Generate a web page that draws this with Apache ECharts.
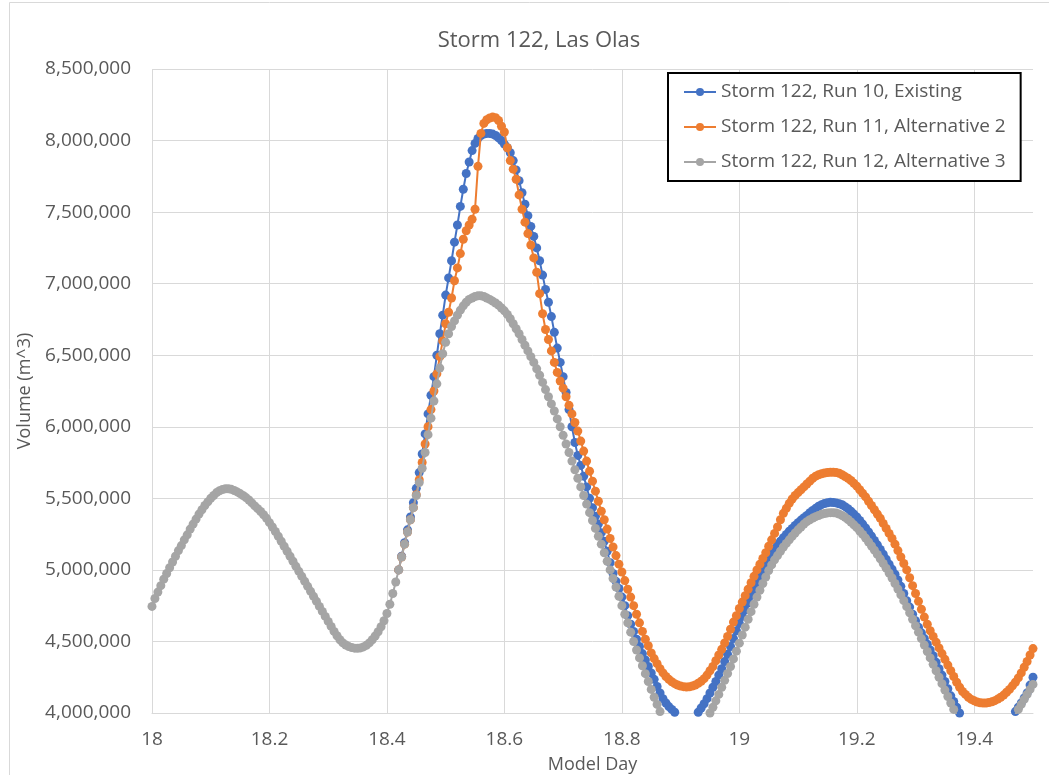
<!DOCTYPE html>
<html><head><meta charset="utf-8">
<script src="https://cdn.jsdelivr.net/npm/echarts@6/dist/echarts.min.js"></script>
<style>html,body{margin:0;padding:0;background:#fff}#chart{width:1049px;height:775px}</style>
</head><body><div id="chart"></div>
<script>
const chartTitle = 'Storm 122, Las Olas';
const xAxisName = 'Model Day';
const yAxisName = 'Volume (m^3)';
const seriesNames = ['Storm 122, Run 10, Existing', 'Storm 122, Run 11, Alternative 2', 'Storm 122, Run 12, Alternative 3'];
const seriesColors = ['#4472C4', '#ED7D31', '#A5A5A5'];
const xTickLabels = ['18', '18.2', '18.4', '18.6', '18.8', '19', '19.2', '19.4'];
const dayStep = 0.005;
const run12FirstDay = 18.0;
const run10FirstDay = 18.42;
const run11FirstDay = 18.42;

// Run 12, Alternative 3 (grey), 18.000 .. 19.500
const run12Volume = [
4745000,4800000,4845000,4890000,4935000,4975000,5015000,5055000,5095000,5135000,
5170000,5210000,5245000,5285000,5320000,5355000,5390000,5420000,5450000,5475000,
5500000,5520000,5540000,5553000,5562000,5567000,5567000,5563000,5555000,5545000,
5533000,5520000,5505000,5488000,5468000,5447000,5428000,5408000,5385000,5360000,
5330000,5300000,5268000,5235000,5200000,5165000,5130000,5095000,5060000,5025000,
4990000,4955000,4920000,4885000,4850000,4815000,4780000,4745000,4710000,4675000,
4640000,4605000,4570000,4540000,4512000,4490000,4475000,4464000,4457000,4453000,
4452000,4455000,4462000,4473000,4490000,4512000,4538000,4568000,4603000,4645000,
4695000,4760000,4835000,4915000,5000000,5090000,5180000,5265000,5350000,5435000,
5520000,5610000,5710000,5820000,5945000,6060000,6180000,6300000,6410000,6510000,
6590000,6650000,6700000,6740000,6780000,6815000,6845000,6870000,6890000,6900000,
6910000,6915000,6915000,6910000,6900000,6890000,6878000,6865000,6850000,6830000,
6810000,6785000,6755000,6720000,6685000,6650000,6610000,6570000,6530000,6490000,
6450000,6405000,6360000,6310000,6260000,6210000,6160000,6110000,6055000,6000000,
5940000,5880000,5820000,5760000,5700000,5640000,5580000,5520000,5460000,5400000,
5345000,5290000,5235000,5180000,5120000,5060000,5000000,4940000,4880000,4815000,
4750000,4690000,4630000,4565000,4500000,4440000,4385000,4330000,4275000,4220000,
4165000,4110000,4060000,4010000,3965000,3925000,3890000,3860000,3835000,3815000,
3800000,3795000,3795000,3800000,3815000,3835000,3860000,3890000,3925000,3960000,
4000000,4040000,4085000,4130000,4180000,4228000,4276000,4325000,4378000,4432000,
4488000,4545000,4600000,4655000,4708000,4760000,4810000,4858000,4905000,4950000,
4995000,5035000,5070000,5100000,5130000,5160000,5185000,5210000,5235000,5258000,
5280000,5300000,5320000,5337000,5350000,5362000,5372000,5380000,5388000,5394000,
5398000,5400000,5400000,5397000,5390000,5380000,5367000,5352000,5335000,5315000,
5295000,5272000,5248000,5222000,5195000,5167000,5138000,5108000,5077000,5045000,
5012000,4978000,4943000,4905000,4866000,4826000,4785000,4743000,4700000,4655000,
4610000,4565000,4520000,4475000,4430000,4385000,4340000,4295000,4250000,4205000,
4160000,4115000,4070000,4025000,3985000,3945000,3910000,3880000,3850000,3825000,
3805000,3790000,3780000,3775000,3775000,3780000,3790000,3805000,3820000,3840000,
3865000,3890000,3920000,3955000,3990000,4025000,4060000,4095000,4130000,4165000,
4200000
];

// Run 10, Existing (blue), 18.420 .. 19.500
const run10Volume = [
5000000,5095000,5190000,5280000,5370000,5470000,5570000,5680000,5810000,5950000,
6090000,6220000,6350000,6500000,6650000,6780000,6920000,7040000,7160000,7290000,
7410000,7540000,7660000,7770000,7850000,7930000,7980000,8015000,8035000,8045000,
8050000,8050000,8045000,8035000,8020000,8000000,7975000,7950000,7915000,7860000,
7795000,7720000,7635000,7555000,7475000,7400000,7330000,7250000,7160000,7060000,
6960000,6870000,6770000,6660000,6550000,6450000,6350000,6240000,6120000,6000000,
5890000,5800000,5730000,5655000,5580000,5500000,5435000,5375000,5320000,5260000,
5200000,5130000,5050000,4975000,4920000,4870000,4810000,4750000,4680000,4620000,
4570000,4515000,4465000,4415000,4370000,4325000,4280000,4235000,4185000,4140000,
4100000,4070000,4045000,4025000,4005000,3990000,3975000,3965000,3960000,3960000,
3965000,3980000,4005000,4035000,4065000,4100000,4140000,4180000,4220000,4265000,
4310000,4360000,4410000,4465000,4520000,4575000,4625000,4675000,4720000,4770000,
4820000,4865000,4910000,4955000,5000000,5040000,5080000,5115000,5145000,5175000,
5200000,5225000,5248000,5270000,5290000,5310000,5330000,5348000,5365000,5380000,
5400000,5415000,5430000,5445000,5456000,5464000,5469000,5472000,5471000,5468000,
5462000,5455000,5442000,5428000,5410000,5390000,5370000,5345000,5320000,5293000,
5265000,5236000,5206000,5175000,5143000,5110000,5075000,5040000,5005000,4970000,
4930000,4885000,4835000,4785000,4740000,4690000,4645000,4600000,4560000,4520000,
4480000,4440000,4400000,4355000,4310000,4265000,4220000,4170000,4120000,4080000,
4040000,4000000,3965000,3930000,3900000,3875000,3855000,3840000,3830000,3825000,
3825000,3830000,3840000,3855000,3875000,3895000,3920000,3940000,3960000,3985000,
4010000,4040000,4070000,4105000,4140000,4195000,4250000
];

// Run 11, Alternative 2 (orange), 18.420 .. 19.500
const run11Volume = [
5000000,5090000,5180000,5265000,5350000,5435000,5525000,5630000,5750000,5880000,
6000000,6120000,6250000,6370000,6490000,6600000,6720000,6800000,6900000,7020000,
7110000,7210000,7310000,7370000,7410000,7450000,7520000,7820000,8050000,8120000,
8145000,8158000,8164000,8160000,8140000,8100000,8060000,7950000,7860000,7800000,
7730000,7620000,7520000,7430000,7350000,7270000,7180000,7080000,6930000,6790000,
6680000,6610000,6530000,6450000,6380000,6320000,6270000,6210000,6150000,6090000,
6030000,5970000,5900000,5830000,5760000,5690000,5620000,5550000,5480000,5410000,
5350000,5285000,5220000,5160000,5100000,5040000,4985000,4925000,4865000,4810000,
4750000,4690000,4630000,4570000,4515000,4470000,4420000,4380000,4345000,4310000,
4280000,4255000,4235000,4218000,4205000,4195000,4188000,4184000,4182000,4183000,
4188000,4196000,4208000,4222000,4240000,4265000,4295000,4325000,4365000,4405000,
4445000,4490000,4535000,4585000,4635000,4680000,4730000,4775000,4820000,4865000,
4910000,4955000,5000000,5040000,5080000,5120000,5165000,5210000,5255000,5300000,
5350000,5395000,5430000,5465000,5495000,5520000,5540000,5560000,5580000,5600000,
5620000,5640000,5655000,5665000,5672000,5677000,5680000,5682000,5682000,5680000,
5675000,5665000,5652000,5640000,5625000,5605000,5585000,5560000,5535000,5510000,
5480000,5450000,5420000,5390000,5360000,5325000,5290000,5255000,5220000,5180000,
5135000,5090000,5045000,5000000,4945000,4890000,4835000,4780000,4725000,4670000,
4620000,4575000,4535000,4495000,4455000,4415000,4375000,4335000,4295000,4255000,
4215000,4180000,4150000,4130000,4110000,4095000,4085000,4077000,4072000,4070000,
4070000,4073000,4078000,4086000,4097000,4110000,4125000,4145000,4165000,4190000,
4215000,4245000,4280000,4320000,4360000,4405000,4450000
];

function toPairs(values, firstDay) {
  return values.map((v, i) => [Math.round((firstDay + i * dayStep) * 1000) / 1000, v]);
}

const FONT = '"Open Sans", "Liberation Sans", sans-serif';
const TEXT = '#595959';
const GRID = '#d9d9d9';

const chart = echarts.init(document.getElementById('chart'), null, { renderer: 'canvas' });

const volumes = [run10Volume, run11Volume, run12Volume];
const firstDays = [run10FirstDay, run11FirstDay, run12FirstDay];

chart.setOption({
  animation: false,
  backgroundColor: '#ffffff',
  textStyle: { fontFamily: FONT },
  graphic: [{
    type: 'rect', left: 7, top: 0, z: -10, silent: true,
    shape: { width: 1060, height: 800 },
    style: { fill: 'none', stroke: '#d9d9d9', lineWidth: 1 }
  }],
  title: {
    text: chartTitle, left: 534, top: 25, textAlign: 'center',
    textStyle: { fontFamily: FONT, fontSize: 22, fontWeight: 'normal', color: TEXT }
  },
  legend: {
    orient: 'vertical', left: 668, top: 73,
    backgroundColor: '#fff', borderColor: '#000', borderWidth: 2,
    padding: [9, 15, 9, 15], itemGap: 15, itemWidth: 32, itemHeight: 10,
    textStyle: { fontFamily: FONT, fontSize: 19, color: TEXT, lineHeight: 20 },
    data: seriesNames
  },
  grid: { left: 152, right: 16, top: 69, bottom: 62, containLabel: false, outerBoundsMode: 'none' },
  xAxis: {
    type: 'value', min: 18, max: 19.5, interval: 0.2,
    name: xAxisName, nameLocation: 'middle', nameGap: 43,
    nameTextStyle: { fontFamily: FONT, fontSize: 18, color: TEXT },
    axisLine: { show: true, lineStyle: { color: GRID, width: 1 } },
    axisTick: { show: false },
    axisLabel: {
      fontFamily: FONT, fontSize: 19, color: TEXT, margin: 17, showMaxLabel: false,
      formatter: (v) => { const s = String(Math.round(v * 10) / 10); return xTickLabels.includes(s) ? s : ''; }
    },
    splitLine: { show: true, showMaxLine: false, lineStyle: { color: GRID, width: 1 } }
  },
  yAxis: {
    type: 'value', min: 4000000, max: 8500000, interval: 500000,
    name: yAxisName, nameLocation: 'middle', nameGap: 117, nameRotate: 90,
    nameTextStyle: { fontFamily: FONT, fontSize: 18, color: TEXT },
    axisLine: { show: false }, axisTick: { show: false },
    axisLabel: { fontFamily: FONT, fontSize: 19, color: TEXT, margin: 21,
      formatter: (v) => v.toLocaleString('en-US') },
    splitLine: { show: true, lineStyle: { color: GRID, width: 1 } }
  },
  series: seriesNames.map((name, k) => ({
    name, type: 'line', data: toPairs(volumes[k], firstDays[k]),
    symbol: 'circle', symbolSize: 9, showSymbol: true, showAllSymbol: true,
    color: seriesColors[k],
    itemStyle: { color: seriesColors[k] },
    lineStyle: { color: seriesColors[k], width: 2 },
    clip: true, z: 2 + k
  }))
});
</script></body></html>
